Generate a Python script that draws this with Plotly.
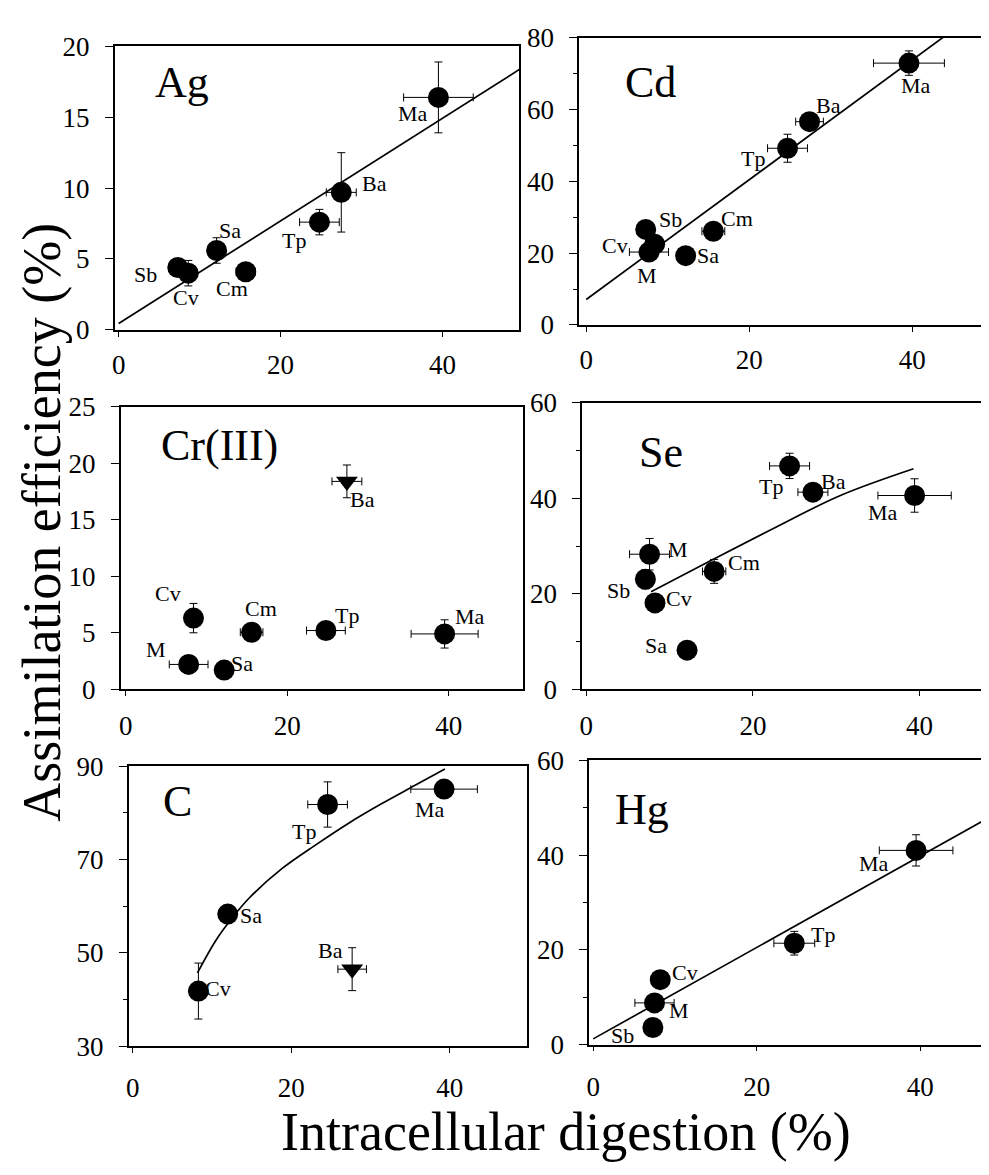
import plotly.graph_objects as go

# The page body keeps an 8px margin, so the figure is sized to fit the
# 989x1175 window exactly and all positions below are window pixels.
WIN_W, WIN_H = 989, 1175
OX, OY = 8, 8
FW, FH = WIN_W - 2 * OX, WIN_H - 2 * OY
FONT = "Liberation Serif"

# ---------------- data ----------------
ag_species = ["Sb", "Cv", "Sa", "Cm", "Tp", "Ba", "Ma"]
ag_x = [7.3, 8.6, 12.1, 15.7, 24.8, 27.5, 39.5]
ag_y = [4.4, 4.0, 5.6, 4.1, 7.6, 9.7, 16.4]
ag_ex = [0, 0.6, 0, 1.2, 2.45, 1.85, 4.3]
ag_ey = [0.3, 0.9, 0.9, 0.4, 0.9, 2.8, 2.5]
ag_fit_x = [0, 50]
ag_fit_y = [0.45, 18.55]

cd_species = ["Sb", "Cv", "M", "Sa", "Cm", "Tp", "Ba", "Ma"]
cd_x = [7.3, 8.4, 7.7, 12.2, 15.6, 24.7, 27.4, 39.6]
cd_y = [26.6, 22.5, 20.3, 19.3, 26.1, 49.2, 56.6, 72.9]
cd_ex = [0, 0.5, 2.4, 0, 1.4, 2.45, 1.7, 4.35]
cd_ey = [0, 0.5, 0.5, 0, 1.0, 3.9, 1.0, 3.4]
cd_fit_x = [0, 45]
cd_fit_y = [7.1, 82.1]

cr_species = ["M", "Cv", "Sa", "Cm", "Tp", "Ba", "Ma"]
cr_x = [7.8, 8.4, 12.2, 15.6, 24.8, 27.4, 39.5]
cr_y = [2.2, 6.3, 1.7, 5.05, 5.2, 18.4, 4.9]
cr_ex = [2.4, 0, 0, 1.4, 2.4, 1.85, 4.15]
cr_ey = [0.3, 1.3, 0, 0.3, 0.3, 1.45, 1.25]
cr_outlier = ["Ba"]

se_species = ["M", "Sb", "Cv", "Sa", "Cm", "Tp", "Ba", "Ma"]
se_x = [7.6, 7.1, 8.25, 12.1, 15.35, 24.4, 27.2, 39.4]
se_y = [28.3, 23.05, 18.1, 8.2, 24.7, 46.8, 41.3, 40.6]
se_ex = [2.4, 0, 0, 0, 1.4, 2.4, 1.8, 4.4]
se_ey = [3.3, 2.0, 0.5, 0, 2.5, 2.65, 1.0, 3.5]
se_fit_x = [7.78, 14.56, 22.52, 30.5, 39.27]
se_fit_y = [20.45, 26.6, 33.75, 40.6, 46.2]

c_species = ["Cv", "Sa", "Tp", "Ma", "Ba"]
c_x = [8.3, 12.0, 24.6, 39.3, 27.7]
c_y = [41.8, 58.3, 81.8, 85.1, 46.5]
c_ex = [0, 0, 2.5, 4.2, 1.8]
c_ey = [6.0, 0, 4.85, 0.5, 4.6]
c_outlier = ["Ba"]
c_fit_x = [8.18, 10.48, 12.58, 14.68, 18.87, 23.06, 27.26, 31.45, 35.64, 39.4]
c_fit_y = [45.7, 52.6, 57.5, 61.7, 68.1, 73.1, 77.8, 82.0, 85.9, 89.4]

hg_species = ["Sb", "M", "Cv", "Tp", "Ma"]
hg_x = [7.3, 7.5, 8.2, 24.6, 39.5]
hg_y = [3.6, 8.8, 13.7, 21.4, 41.0]
hg_ex = [0, 2.4, 0, 2.5, 4.5]
hg_ey = [0, 0.5, 0.5, 2.5, 3.3]
hg_fit_x = [0, 50]
hg_fit_y = [1.2, 49.45]

x_ticks = [0, 20, 40]
x_title = "Intracellular digestion (%)"
y_title = "Assimilation efficiency (%)"

# ---------------- layout (window pixels) ----------------
RIGHT = WIN_W - OX
panels = [
    dict(name="Ag", sp=ag_species, x=ag_x, y=ag_y, ex=ag_ex, ey=ag_ey, out=[],
         fx=ag_fit_x, fy=ag_fit_y, spline=False,
         box=(112, 518, 32, 323), x0=116, xs=8.12, yr=[0, 20],
         yt=[0, 5, 10, 15, 20], ym=[], mirror_y=True, std=5,
         lab=(150, 69),
         off={"Sb": (-32, 7), "Cv": (-2, 24), "Sa": (13, -20), "Cm": (-14, 17),
              "Tp": (-25, 18), "Ba": (33, -9), "Ma": (-25, 16)}),
    dict(name="Cd", sp=cd_species, x=cd_x, y=cd_y, ex=cd_ex, ey=cd_ey, out=[],
         fx=cd_fit_x, fy=cd_fit_y, spline=False,
         box=(578, RIGHT, 23, 318), x0=585, xs=8.175, yr=[0, 80],
         yt=[0, 20, 40, 60, 80], ym=[10, 30, 50, 70], mirror_y=False, std=5,
         lab=(622, 69),
         off={"Sb": (25, -10), "Cv": (-40, 1), "M": (-2, 23), "Sa": (22, 0),
              "Cm": (24, -13), "Tp": (-35, 10), "Ba": (19, -16), "Ma": (7, 22)}),
    dict(name="Cr(III)", sp=cr_species, x=cr_x, y=cr_y, ex=cr_ex, ey=cr_ey, out=cr_outlier,
         fx=None, fy=None, spline=False,
         box=(118, 522, 402, 692), x0=123, xs=8.1, yr=[0, 25],
         yt=[0, 5, 10, 15, 20, 25], ym=[], mirror_y=True, std=7,
         lab=(156, 442),
         off={"M": (-33, -15), "Cv": (-25, -25), "Sa": (18, -7), "Cm": (9, -24),
              "Tp": (21, -15), "Ba": (16, 18), "Ma": (25, -17)}),
    dict(name="Se", sp=se_species, x=se_x, y=se_y, ex=se_ex, ey=se_ey, out=[],
         fx=se_fit_x, fy=se_fit_y, spline=True,
         box=(581, RIGHT, 398, 692), x0=585, xs=8.36, yr=[0, 60],
         yt=[0, 20, 40, 60], ym=[10, 30, 50], mirror_y=False, std=7,
         lab=(636, 449),
         off={"M": (28, -5), "Sb": (-27, 11), "Cv": (24, -4), "Sa": (-31, -5),
              "Cm": (30, -9), "Tp": (-19, 21), "Ba": (21, -11), "Ma": (-32, 17)}),
    dict(name="C", sp=c_species, x=c_x, y=c_y, ex=c_ex, ey=c_ey, out=c_outlier,
         fx=c_fit_x, fy=c_fit_y, spline=True,
         box=(126, 525.6, 771, 1058.3), x0=130, xs=7.95, yr=[30, 90],
         yt=[30, 50, 70, 90], ym=[40, 60, 80], mirror_y=True, std=12,
         lab=(158, 807),
         off={"Cv": (20, -3), "Sa": (23, 1), "Tp": (-24, 27), "Ma": (-14, 20),
              "Ba": (-22, -19)}),
    dict(name="Hg", sp=hg_species, x=hg_x, y=hg_y, ex=hg_ex, ey=hg_ey, out=[],
         fx=hg_fit_x, fy=hg_fit_y, spline=False,
         box=(588, RIGHT, 765, 1056.7), x0=592, xs=8.2, yr=[0, 60],
         yt=[0, 20, 40, 60], ym=[10, 30, 50], mirror_y=False, std=12,
         lab=(612, 815),
         off={"Sb": (-30, 8), "M": (24, 8), "Cv": (25, -7), "Tp": (29, -9),
              "Ma": (-42, 13)}),
]


def px_x(v):
    return (v - OX) / FW


def px_y(v):
    return 1 - (v - OY) / FH


fig = go.Figure()
annotations = []
layout_axes = {}

for i, p in enumerate(panels, start=1):
    sfx = "" if i == 1 else str(i)
    xref, yref = "x" + sfx, "y" + sfx
    l, r, t, b = p["box"]
    xr = [(l - p["x0"]) / p["xs"], (r - p["x0"]) / p["xs"]]
    if p["fx"] is not None:
        fig.add_trace(go.Scatter(
            x=p["fx"], y=p["fy"], xaxis=xref, yaxis=yref, mode="lines",
            line=dict(color="black", width=1.7, shape="spline" if p["spline"] else "linear"),
            hoverinfo="skip", showlegend=False))
    symbols = ["triangle-down" if s in p["out"] else "circle" for s in p["sp"]]
    sizes = [19 if s in p["out"] else 21 for s in p["sp"]]
    fig.add_trace(go.Scatter(
        x=p["x"], y=p["y"], xaxis=xref, yaxis=yref, mode="markers",
        marker=dict(color="black", symbol=symbols, size=sizes, opacity=1, line=dict(width=0)),
        error_x=dict(type="data", array=p["ex"], color="black", thickness=1, width=4),
        error_y=dict(type="data", array=p["ey"], color="black", thickness=1, width=4),
        text=p["sp"], showlegend=False, cliponaxis=False))
    for s, xv, yv in zip(p["sp"], p["x"], p["y"]):
        dx, dy = p["off"][s]
        annotations.append(dict(
            x=xv, y=yv, xref=xref, yref=yref, text=s, showarrow=False,
            xshift=dx, yshift=-dy, font=dict(family=FONT, size=22, color="black")))
    annotations.append(dict(
        x=px_x(p["lab"][0]), y=px_y(p["lab"][1]), xref="paper", yref="paper",
        xanchor="left", yanchor="middle", text=p["name"], showarrow=False,
        font=dict(family=FONT, size=44, color="black")))
    layout_axes["xaxis" + sfx] = dict(
        domain=[px_x(l), min(1.0, px_x(r))], range=xr, anchor=yref,
        tickvals=x_ticks, ticks="outside", ticklen=5, tickwidth=1.2, tickcolor="black",
        showline=True, linecolor="black", linewidth=1.5, mirror=True,
        showgrid=False, zeroline=False, ticklabelstandoff=p["std"],
        tickfont=dict(family=FONT, size=27, color="black"))
    layout_axes["yaxis" + sfx] = dict(
        domain=[px_y(b), px_y(t)], range=p["yr"], anchor=xref,
        tickvals=p["yt"], ticks="outside", ticklen=8, tickwidth=1.2, tickcolor="black",
        minor=dict(tickvals=p["ym"], ticks="outside", ticklen=4, tickcolor="black", tickwidth=1),
        showline=True, linecolor="black", linewidth=1.5, mirror=p["mirror_y"],
        showgrid=False, zeroline=False, ticklabelstandoff=10,
        tickfont=dict(family=FONT, size=27, color="black"))

annotations.append(dict(
    x=px_x(39), y=px_y(520), xref="paper", yref="paper", text=y_title, textangle=-90,
    showarrow=False, xanchor="center", yanchor="middle",
    font=dict(family=FONT, size=54, color="black")))
annotations.append(dict(
    x=px_x(565), y=px_y(1146), xref="paper", yref="paper", text=x_title,
    showarrow=False, xanchor="center", yanchor="middle",
    font=dict(family=FONT, size=54, color="black")))

fig.update_layout(
    width=FW, height=FH, margin=dict(l=0, r=0, t=0, b=0),
    paper_bgcolor="white", plot_bgcolor="white",
    annotations=annotations, showlegend=False, **layout_axes)

fig.write_html("out.html")
